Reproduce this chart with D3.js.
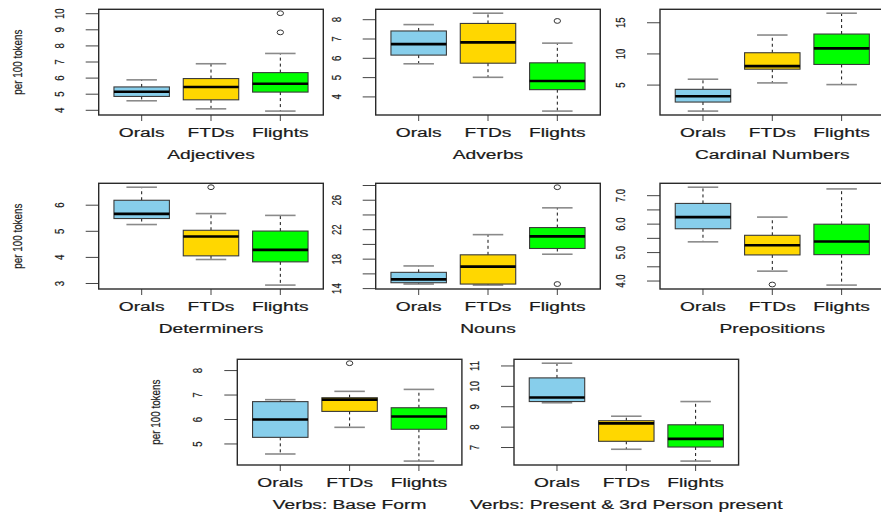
<!DOCTYPE html>
<html>
<head>
<meta charset="utf-8">
<script src="https://cdn.jsdelivr.net/npm/d3@7"></script>
<style>
  body { margin: 0; background: #fff; }
  svg { display: block; }
  text { font-family: "Liberation Sans", Arial, sans-serif; fill: #1a1a1a; stroke: #1a1a1a; stroke-width: 0.2px; }
</style>
</head>
<body>
<svg id="chart" width="881" height="514"></svg>
<script>
// ---- data -------------------------------------------------------------
const groups = ["Orals", "FTDs", "Flights"];
const groupColors = ["#87CEEB", "#FFD700", "#00FF00"];
const yLabel = "per 100 tokens";

// five-number summaries per group: [lower whisker, Q1, median, Q3, upper whisker]
const adjectives   = [[4.56, 4.83, 5.12, 5.42, 5.86], [4.06, 4.62, 5.42, 5.94, 6.86], [3.92, 5.10, 5.62, 6.31, 7.50]];
const adjectivesOut = [[], [], [8.81, 10.0]];
const adjectivesTicks = ["4", "5", "6", "7", "8", "9", "10"];

const adverbs   = [[5.69, 6.14, 6.71, 7.39, 7.72], [4.99, 5.72, 6.80, 7.78, 8.31], [3.24, 4.35, 4.80, 5.74, 6.76]];
const adverbsOut = [[], [], [7.91]];
const adverbsTicks = ["4", "5", "6", "7", "8"];

const cardinals   = [[0.75, 2.20, 3.12, 4.24, 5.86], [5.27, 7.47, 7.96, 10.11, 12.95], [5.00, 8.23, 10.81, 13.11, 16.45]];
const cardinalsOut = [[], [], []];
const cardinalsTicks = ["5", "10", "15"];

const determiners   = [[5.24, 5.47, 5.65, 6.17, 6.67], [3.90, 4.04, 4.78, 5.02, 5.66], [2.92, 3.81, 4.27, 4.99, 5.59]];
const determinersOut = [[], [6.67], []];
const determinersTicks = ["3", "4", "5", "6"];

const nouns   = [[14.55, 14.73, 15.18, 16.14, 17.01], [14.41, 14.55, 16.92, 18.52, 21.26], [18.60, 19.38, 21.03, 22.22, 24.90]];
const nounsOut = [[], [], [27.7, 14.55]];
const nounsTicks = ["14", "16", "18", "20", "22", "24", "26", "28"];
const nounsShown = ["14", "18", "22", "26"];

const prepositions   = [[5.36, 5.82, 6.23, 6.71, 7.28], [4.33, 4.90, 5.24, 5.59, 6.23], [3.84, 4.91, 5.37, 5.98, 7.22]];
const prepositionsOut = [[], [3.86], []];
const prepositionsTicks = ["4.0", "4.5", "5.0", "5.5", "6.0", "6.5", "7.0"];
const prepositionsShown = ["4.0", "5.0", "6.0", "7.0"];

const verbsBase   = [[4.57, 5.25, 5.98, 6.71, 6.79], [5.66, 6.31, 6.79, 6.87, 7.13], [4.28, 5.58, 6.10, 6.46, 7.21]];
const verbsBaseOut = [[], [8.28], []];
const verbsBaseTicks = ["5", "6", "7", "8"];

const verbsPres   = [[9.17, 9.23, 9.43, 10.39, 11.11], [6.89, 7.28, 8.16, 8.29, 8.51], [6.31, 7.00, 7.40, 8.09, 9.23]];
const verbsPresOut = [[], [], []];
const verbsPresTicks = ["7", "8", "9", "10", "11"];

const titles = ["Adjectives", "Adverbs", "Cardinal Numbers", "Determiners", "Nouns",
                "Prepositions", "Verbs: Base Form", "Verbs: Present & 3rd Person present"];

// ---- layout -------------------------------------------------------------
const W = 224.6, H = 105.7;
const panels = [
  { title: titles[0], stats: adjectives,   out: adjectivesOut,   ticks: adjectivesTicks,   left: 98.7,  top: 9.3,   ylab: true },
  { title: titles[1], stats: adverbs,      out: adverbsOut,      ticks: adverbsTicks,      left: 375.7, top: 9.3 },
  { title: titles[2], stats: cardinals,    out: cardinalsOut,    ticks: cardinalsTicks,    left: 660,   top: 9.3 },
  { title: titles[3], stats: determiners,  out: determinersOut,  ticks: determinersTicks,  left: 98.7,  top: 183.3, ylab: true },
  { title: titles[4], stats: nouns,        out: nounsOut,        ticks: nounsTicks,        left: 375.7, top: 183.3, shown: nounsShown },
  { title: titles[5], stats: prepositions, out: prepositionsOut, ticks: prepositionsTicks, left: 660,   top: 183.3, shown: prepositionsShown },
  { title: titles[6], stats: verbsBase,    out: verbsBaseOut,    ticks: verbsBaseTicks,    left: 237.3, top: 359.3, ylab: true },
  { title: titles[7], stats: verbsPres,    out: verbsPresOut,    ticks: verbsPresTicks,    left: 514,   top: 359.3 }
];

const svg = d3.select("#chart");
svg.append("rect").attr("width", 881).attr("height", 514).attr("fill", "#fff");

const SX = 1.6;   // horizontal stretch of upright labels
const SR = 0.8;   // squeeze of rotated labels along their run
const SP = 1.12;  // widening of rotated labels across their run

panels.forEach(p => {
  const g = svg.append("g").attr("transform", `translate(${p.left},${p.top})`);

  // y range like R: data extent plus 4% each side
  const vals = p.stats.flat().concat(p.out.flat());
  const [lo, hi] = d3.extent(vals);
  const pad = (hi - lo) * 0.04;
  const y = d3.scaleLinear().domain([lo - pad, hi + pad]).range([H, 0]);
  const x = d3.scaleBand().domain(groups).range([0, W]).paddingInner(0.2).paddingOuter(0.22);
  const bw = x.bandwidth();
  const cap = bw * 0.55;

  // y axis
  const shown = p.shown || p.ticks;
  const yAxis = d3.axisLeft(y)
    .tickValues(p.ticks.map(Number))
    .tickSize(13)
    .tickFormat((d, i) => shown.includes(p.ticks[i]) ? p.ticks[i] : "");
  const ya = g.append("g").call(yAxis);
  ya.select(".domain").remove();
  ya.selectAll(".tick line").attr("stroke", "#444");
  ya.selectAll(".tick text")
    .attr("x", null).attr("dy", null)
    .attr("text-anchor", "middle")
    .attr("font-size", 12)
    .attr("fill", "#1a1a1a")
    .attr("transform", `translate(-35,0) rotate(-90) scale(${SR},${SP})`);

  // x axis
  const xAxis = d3.axisBottom(x).tickSize(6);
  const xa = g.append("g").attr("transform", `translate(0,${H})`).call(xAxis);
  xa.select(".domain").remove();
  xa.selectAll(".tick line").attr("stroke", "#444");
  xa.selectAll(".tick text")
    .attr("y", null).attr("dy", null)
    .attr("font-size", 12)
    .attr("fill", "#1a1a1a")
    .attr("transform", `translate(0,22.3) scale(${SX},1)`);

  // boxes
  p.stats.forEach((s, i) => {
    const cx = x(groups[i]) + bw / 2;
    const bx = x(groups[i]);
    const [wl, q1, md, q3, wh] = s;
    const bg = g.append("g");
    // whiskers
    bg.append("line").attr("x1", cx).attr("x2", cx).attr("y1", y(q3)).attr("y2", y(wh))
      .attr("stroke", "#111").attr("stroke-width", 1).attr("stroke-dasharray", "3,3");
    bg.append("line").attr("x1", cx).attr("x2", cx).attr("y1", y(q1)).attr("y2", y(wl))
      .attr("stroke", "#111").attr("stroke-width", 1).attr("stroke-dasharray", "3,3");
    // staples
    [wl, wh].forEach(v => {
      bg.append("line").attr("x1", cx - cap / 2).attr("x2", cx + cap / 2).attr("y1", y(v)).attr("y2", y(v))
        .attr("stroke", "#8a8a8a").attr("stroke-width", 1.6);
    });
    // box
    bg.append("rect").attr("x", bx).attr("width", bw)
      .attr("y", y(q3)).attr("height", y(q1) - y(q3))
      .attr("fill", groupColors[i]).attr("stroke", "#3a3a3a").attr("stroke-width", 1.1);
    // median
    bg.append("line").attr("x1", bx).attr("x2", bx + bw).attr("y1", y(md)).attr("y2", y(md))
      .attr("stroke", "#000").attr("stroke-width", 2.6);
    // outliers
    p.out[i].forEach(v => {
      bg.append("ellipse").attr("cx", cx).attr("cy", y(v)).attr("rx", 3.2).attr("ry", 2.4)
        .attr("fill", "none").attr("stroke", "#333").attr("stroke-width", 1);
    });
  });

  // frame
  g.append("rect").attr("width", W).attr("height", H)
    .attr("fill", "none").attr("stroke", "#2a2a2a").attr("stroke-width", 1.4);

  // title
  g.append("text")
    .attr("transform", `translate(${W / 2},${H + 44}) scale(${SX},1)`)
    .attr("text-anchor", "middle").attr("font-size", 12)
    .text(p.title);

  // y label
  if (p.ylab) {
    g.append("text")
      .attr("transform", `translate(-77,${H / 2}) rotate(-90) scale(0.82,1.05)`)
      .attr("text-anchor", "middle").attr("font-size", 12)
      .text(yLabel);
  }
});
</script>
</body>
</html>
